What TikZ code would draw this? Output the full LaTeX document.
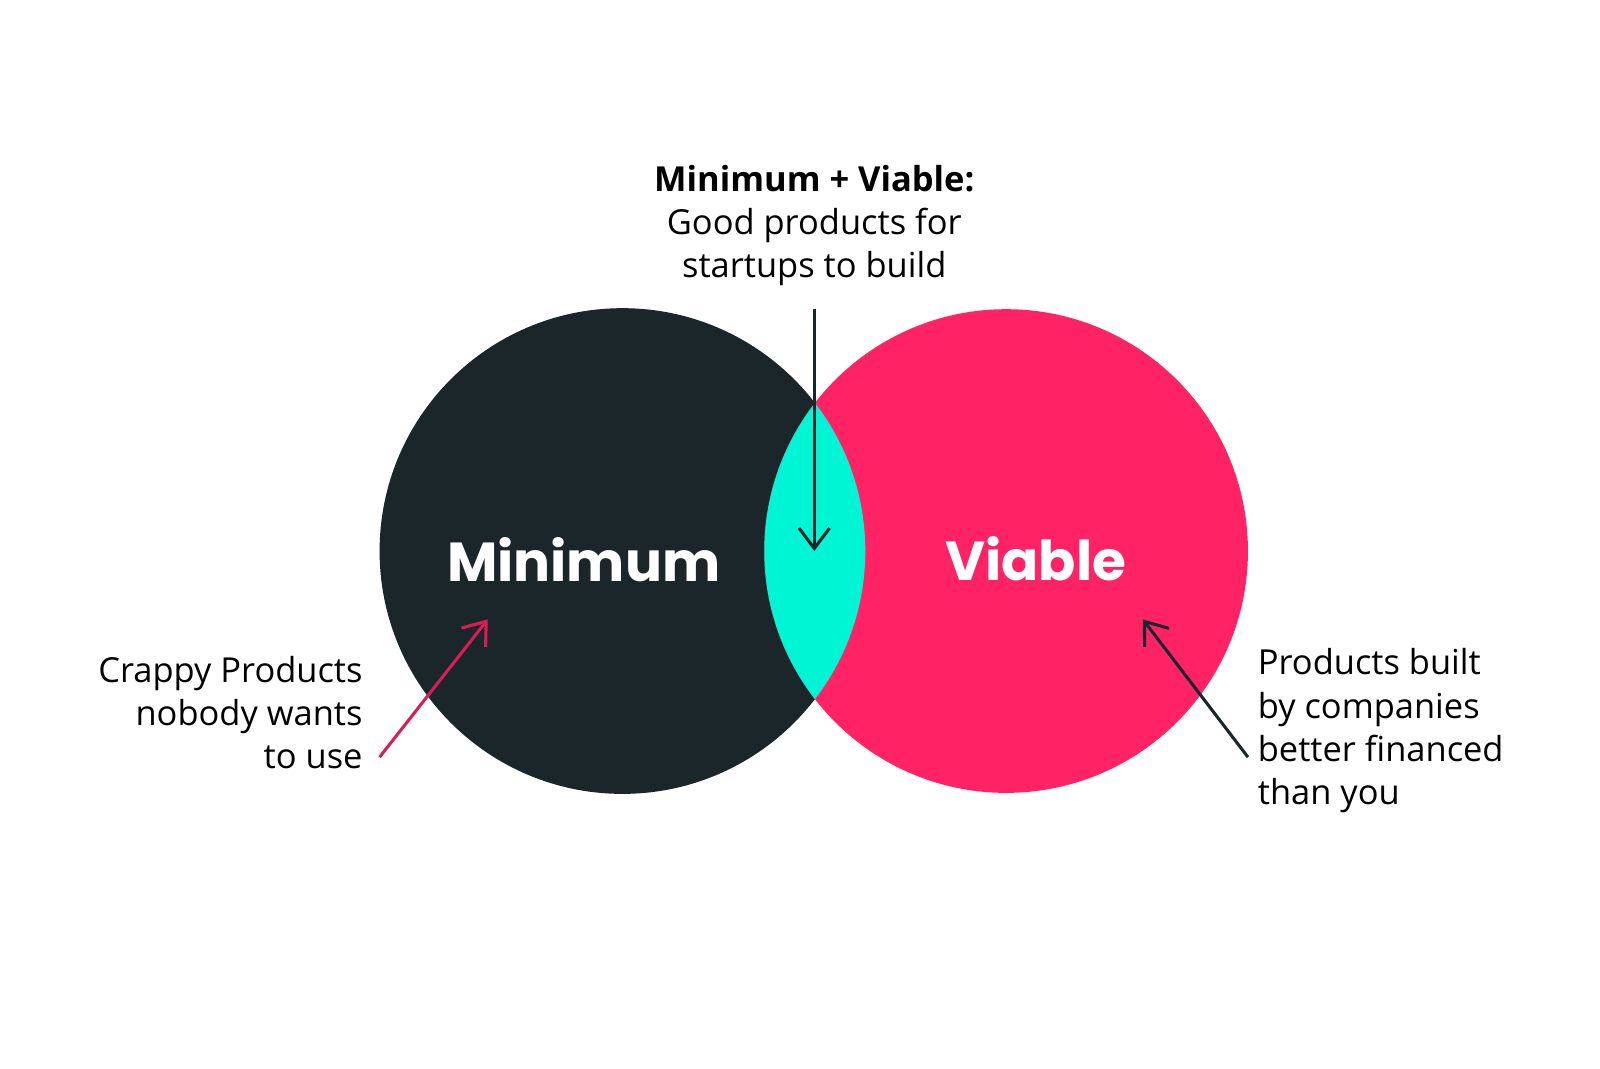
\documentclass[tikz,border=0pt]{standalone}
\usepackage{fontspec}
\setmainfont{Open Sans}
\newfontfamily\headfont{Poppins}
\usetikzlibrary{arrows.meta}
\definecolor{dark}{HTML}{1B262B}
\definecolor{pinkc}{HTML}{FF2366}
\definecolor{tealc}{HTML}{00F5D4}
\begin{document}
\begin{tikzpicture}[x=0.01cm,y=-0.01cm,
  ann/.style={font=\fontsize{9.6pt}{12pt}\selectfont, inner sep=0pt},
  big/.style={font=\headfont\bfseries\fontsize{15.3pt}{17pt}\selectfont, text=white, inner sep=0pt},
  arr/.style={line width=0.03cm, -{Straight Barb[length=0.2cm,width=0.3cm]}}]
\useasboundingbox (0,0) rectangle (1568,1047.6);
\fill[white] (0,0) rectangle (1568,1047.6);
\fill[dark] (610,540) circle (238);
\fill[pinkc] (986,540) circle (237);
\begin{scope}
\clip (610,540) circle (238);
\fill[tealc] (986,540) circle (237);
\end{scope}
\node[big] (min) at (572,548) {Minimum};
\node[big] (via) at (1015,548) {Viable};
\node[ann, align=center] (top) at (798,221) {\textbf{Minimum + Viable:}\\Good products for\\startups to build};
\coordinate (t0) at (798,303);
\coordinate (t1) at (798,540);
\draw[arr, dark] (t0) -- (t1);
\node[ann, align=right, anchor=east] (left) at (356,698) {Crappy Products\\nobody wants\\to use};
\node[ann, align=left, anchor=west] (right) at (1232,716) {Products built\\by companies\\better financed\\than you};
\coordinate (l0) at (372,742);
\coordinate (l1) at (478,607);
\draw[arr, pinkc!85!black] (l0) -- (l1);
\coordinate (r0) at (1223,742);
\coordinate (r1) at (1120,607);
\draw[arr, dark] (r0) -- (r1);
\end{tikzpicture}
\end{document}
